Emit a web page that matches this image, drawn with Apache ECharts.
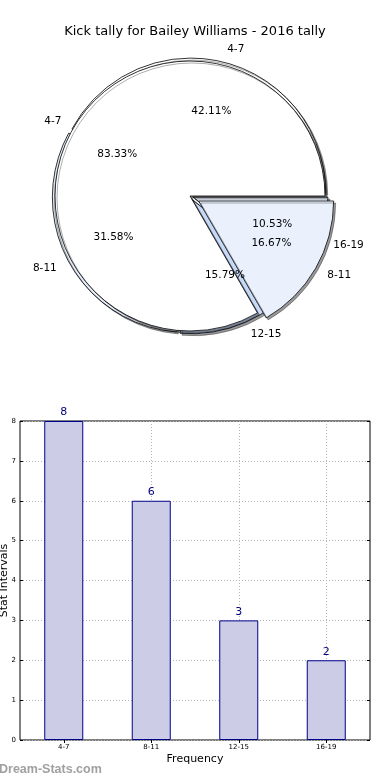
<!DOCTYPE html>
<html><head><meta charset="utf-8">
<script src="https://cdn.jsdelivr.net/npm/echarts@6/dist/echarts.min.js"></script>
<style>html,body{margin:0;padding:0;background:#fff}#c{width:390px;height:780px}</style>
</head><body><div id="c"></div>
<script>
// ---- data ----
const chartTitle = 'Kick tally for Bailey Williams - 2016 tally';
const outerCats = ['4-7', '8-11', '12-15', '16-19'];
const outerVals = [8, 6, 3, 2];
const innerCats = ['4-7', '8-11'];
const innerVals = [5, 1];
const barCats = ['4-7', '8-11', '12-15', '16-19'];
const barVals = [8, 6, 3, 2];
const xName = 'Frequency';
const yName = 'Stat Intervals';
const watermark = 'Dream-Stats.com';

// ---- styles ----
const outerColors = ['#ffffff', '#e6eefb', '#c6d9f7', '#eaf1fd'];
const innerColors = ['#ffffff', '#eaf1fd'];
const outerExplode = [true, true, true, true];
const innerExplode = [false, true];

const FONT = 'DejaVu Sans';
const C = [190, 196];
const R = 135;

function pieData(cats, vals, explode, colors) {
  return cats.map((c, i) => {
    const d = { name: c, value: vals[i], selected: explode[i] };
    if (colors) d.itemStyle = { color: colors[i] };
    return d;
  });
}
function pctText(vals) {
  const tot = vals.reduce((a, b) => a + b, 0);
  return p => (p.value / tot * 100).toFixed(2) + '%';
}

const sliceStyle = {
  borderColor: '#000', borderWidth: 0.8,
  shadowColor: 'rgba(0,0,0,0.4)', shadowOffsetX: 2, shadowOffsetY: 2, shadowBlur: 0
};
const clear = { color: 'rgba(0,0,0,0)', borderWidth: 0 };

function basePie(extra) {
  return Object.assign({
    type: 'pie', center: C, startAngle: 0, clockwise: false,
    selectedMode: 'multiple', avoidLabelOverlap: false,
    emphasis: { disabled: true }, animation: false
  }, extra);
}

function nameLabelPie(cats, vals, explode, rad, off, z) {
  return basePie({
    radius: [rad * 1.1 - 0.5, rad * 1.1], selectedOffset: off, silent: true, z: z,
    data: pieData(cats, vals, explode), itemStyle: clear,
    label: { show: true, position: 'outside', formatter: '{b}', fontFamily: FONT, fontSize: 10.5,
             color: '#000', distanceToLabelLine: 0 },
    labelLine: { show: false, length: 0, length2: 0 }
  });
}
function pctLabelPie(cats, vals, explode, rad, off, z) {
  return basePie({
    radius: [rad * 0.5, rad * 0.7], selectedOffset: off, silent: true, z: z,
    data: pieData(cats, vals, explode), itemStyle: clear,
    label: { show: true, position: 'inside', formatter: pctText(vals), fontFamily: FONT, fontSize: 10.5, color: '#000' },
    labelLine: { show: false }
  });
}

const gridLine = { color: '#b4b4b4', type: [1, 2], width: 1 };

const chart = echarts.init(document.getElementById('c'), null, { renderer: 'canvas' });
chart.setOption({
  animation: false,
  backgroundColor: '#fff',
  textStyle: { fontFamily: FONT },
  title: {
    text: chartTitle, left: 'center', top: 20,
    textStyle: { fontFamily: FONT, fontSize: 13, fontWeight: 'normal', color: '#000' }
  },
  graphic: [{
    type: 'text', left: -1, top: 763,
    style: { text: watermark, fontFamily: 'Liberation Sans', fontSize: 12.5, fill: '#a0a0a0', fontWeight: 'bold' }
  }],
  grid: { left: 20, right: 20, top: 421, bottom: 40, outerBoundsMode: 'none', containLabel: false,
          show: true, borderColor: '#000', borderWidth: 1, backgroundColor: 'transparent' },
  xAxis: [{
    type: 'category', data: barCats, position: 'bottom',
    name: xName, nameLocation: 'middle', nameGap: 14, nameMoveOverlap: false,
    nameTextStyle: { fontFamily: FONT, fontSize: 11, color: '#000' },
    axisLine: { show: false },
    axisTick: { show: true, inside: true, alignWithLabel: true, length: 3, lineStyle: { color: '#000' } },
    axisLabel: { fontFamily: FONT, fontSize: 7, color: '#000', margin: 4 },
    splitLine: { show: true, alignWithLabel: true, lineStyle: gridLine }
  }, {
    type: 'category', data: barCats, position: 'top',
    axisLine: { show: false },
    axisTick: { show: true, inside: true, alignWithLabel: true, length: 3, lineStyle: { color: '#000' } },
    axisLabel: { show: false }, splitLine: { show: false }
  }],
  yAxis: [{
    type: 'value', min: 0, max: 8, interval: 1,
    name: yName, nameLocation: 'middle', nameGap: 10, nameRotate: 90, nameMoveOverlap: false,
    nameTextStyle: { fontFamily: FONT, fontSize: 11, color: '#000' },
    axisLine: { show: false },
    axisTick: { show: true, inside: true, length: 3, lineStyle: { color: '#000' } },
    axisLabel: { fontFamily: FONT, fontSize: 7, color: '#000', margin: 4 },
    splitLine: { show: true, lineStyle: gridLine }
  }, {
    type: 'value', min: 0, max: 8, interval: 1, position: 'right',
    axisLine: { show: false },
    axisTick: { show: true, inside: true, length: 3, lineStyle: { color: '#000' } },
    axisLabel: { show: false }, splitLine: { show: false }
  }],
  series: [
    basePie({
      radius: [0, R], selectedOffset: 3, z: 1,
      data: pieData(outerCats, outerVals, outerExplode, outerColors),
      itemStyle: sliceStyle, label: { show: false }, labelLine: { show: false }
    }),
    basePie({
      radius: [0, R], selectedOffset: 10, z: 2,
      data: pieData(innerCats, innerVals, innerExplode, innerColors),
      itemStyle: sliceStyle, label: { show: false }, labelLine: { show: false }
    }),
    nameLabelPie(outerCats, outerVals, outerExplode, R, 3, 3),
    pctLabelPie(outerCats, outerVals, outerExplode, R, 3, 3),
    nameLabelPie(innerCats, innerVals, innerExplode, R, 10, 3),
    pctLabelPie(innerCats, innerVals, innerExplode, R, 10, 3),
    {
      type: 'bar', data: barVals, xAxisIndex: 0, yAxisIndex: 0, barWidth: 39,
      itemStyle: { color: '#ccccE6', borderColor: '#00008b', borderWidth: 1 },
      label: { show: true, position: 'top', distance: 3, fontFamily: FONT, fontSize: 11, color: '#000080' },
      emphasis: { disabled: true }, z: 2
    }
  ]
});
</script>
</body></html>
